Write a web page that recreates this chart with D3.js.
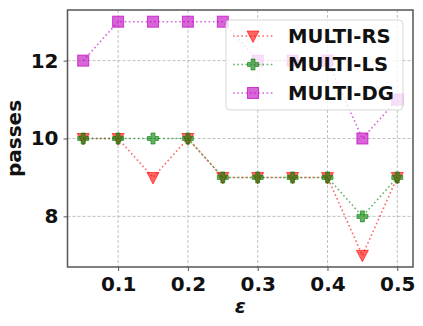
<!DOCTYPE html>
<html>
<head>
<meta charset="utf-8">
<script src="https://cdn.jsdelivr.net/npm/d3@7"></script>
<style>
  body { margin: 0; background: #fff; }
  text { font-family: "DejaVu Sans", sans-serif; font-weight: bold; }
</style>
</head>
<body>
<div id="chart"></div>
<script>
const eps = [0.05, 0.1, 0.15, 0.2, 0.25, 0.3, 0.35, 0.4, 0.45, 0.5];
const multiRS = [10, 10, 9, 10, 9, 9, 9, 9, 7, 9];
const multiLS = [10, 10, 10, 10, 9, 9, 9, 9, 8, 9];
const multiDG = [12, 13, 13, 13, 13, 12, 12, 12, 10, 11];
const xTicks = [0.1, 0.2, 0.3, 0.4, 0.5];
const yTicks = [8, 10, 12];

const series = [
    { name: "MULTI-RS", values: multiRS, color: "#ff0000", shape: "tri" },
    { name: "MULTI-LS", values: multiLS, color: "#008000", shape: "plus" },
    { name: "MULTI-DG", values: multiDG, color: "#c000c0", shape: "square" }
];

const width = 423, height = 326,
      margin = ({ top: 10, right: 10, bottom: 59, left: 67.5 });

let svg = d3.select("#chart")
    .append("svg")
    .attr("width", width)
    .attr("height", height);

let x = d3.scaleLinear()
    .domain([0.0275, 0.5225])
    .range([margin.left, width - margin.right]);

let y = d3.scaleLinear()
    .domain([6.7, 13.3])
    .range([height - margin.bottom, margin.top]);

// grid
svg.append("g")
    .selectAll("line")
    .data(xTicks)
    .join("line")
    .attr("x1", d => x(d)).attr("x2", d => x(d))
    .attr("y1", margin.top).attr("y2", height - margin.bottom)
    .attr("stroke", "#b0b0b0").attr("stroke-width", 0.8)
    .attr("stroke-dasharray", "3,2");

svg.append("g")
    .selectAll("line")
    .data(yTicks)
    .join("line")
    .attr("x1", margin.left).attr("x2", width - margin.right)
    .attr("y1", d => y(d)).attr("y2", d => y(d))
    .attr("stroke", "#b0b0b0").attr("stroke-width", 0.8)
    .attr("stroke-dasharray", "3,2");

// axes
let xAxis = svg.append("g")
    .attr("transform", `translate(0,${height - margin.bottom})`)
    .call(d3.axisBottom(x).tickValues(xTicks).tickSize(4).tickPadding(6).tickFormat(d3.format(".1f")));

let yAxis = svg.append("g")
    .attr("transform", `translate(${margin.left},0)`)
    .call(d3.axisLeft(y).tickValues(yTicks).tickSize(4).tickPadding(5).tickFormat(d3.format("d")));

[xAxis, yAxis].forEach(a => {
    a.select(".domain").remove();
    a.selectAll(".tick line").attr("stroke", "#555");
    a.selectAll(".tick text")
        .attr("fill", "#111")
        .style("font-size", "20px")
        .style("font-family", "DejaVu Sans")
        .style("font-weight", "bold");
});

// frame
svg.append("rect")
    .attr("x", margin.left).attr("y", margin.top)
    .attr("width", width - margin.right - margin.left)
    .attr("height", height - margin.bottom - margin.top)
    .attr("fill", "none")
    .attr("stroke", "#555")
    .attr("stroke-width", 1.5);

function marker(sel, shape, color) {
    if (shape == "tri") {
        sel.append("path")
            .attr("d", "M-6,-5 L6,-5 L0,6.5 Z")
            .attr("fill", color).attr("fill-opacity", 0.6)
            .attr("stroke", color).attr("stroke-opacity", 0.6);
    } else if (shape == "plus") {
        sel.append("path")
            .attr("d", "M-2,-5.5 L2,-5.5 L2,-2 L5.5,-2 L5.5,2 L2,2 L2,5.5 L-2,5.5 L-2,2 L-5.5,2 L-5.5,-2 L-2,-2 Z")
            .attr("fill", color).attr("fill-opacity", 0.6)
            .attr("stroke", color).attr("stroke-opacity", 0.6);
    } else {
        sel.append("rect")
            .attr("x", -5.5).attr("y", -5.5).attr("width", 11).attr("height", 11)
            .attr("fill", color).attr("fill-opacity", 0.6)
            .attr("stroke", color).attr("stroke-opacity", 0.7);
    }
}

let line = d3.line()
    .x((d, i) => x(eps[i]))
    .y(d => y(d));

for (let s of series) {
    svg.append("path")
        .datum(s.values)
        .attr("d", line)
        .attr("fill", "none")
        .attr("stroke", s.color)
        .attr("stroke-opacity", 0.6)
        .attr("stroke-width", 1.6)
        .attr("stroke-dasharray", "1.6,2.6");

    svg.append("g")
        .selectAll("g")
        .data(s.values)
        .join("g")
        .attr("transform", (d, i) => `translate(${x(eps[i])},${y(d)})`)
        .each(function() { marker(d3.select(this), s.shape, s.color); });
}

// legend
let legend = svg.append("g");
legend.append("rect")
    .attr("x", 226).attr("y", 20)
    .attr("width", 177).attr("height", 90)
    .attr("rx", 4)
    .attr("fill", "white").attr("fill-opacity", 0.8)
    .attr("stroke", "#ccc").attr("stroke-opacity", 0.8);

series.forEach((s, i) => {
    let yy = 36 + i * 28.5;
    legend.append("line")
        .attr("x1", 233).attr("x2", 273)
        .attr("y1", yy).attr("y2", yy)
        .attr("stroke", s.color)
        .attr("stroke-opacity", 0.6)
        .attr("stroke-width", 1.6)
        .attr("stroke-dasharray", "1.6,2.6");
    let g = legend.append("g").attr("transform", `translate(253,${yy})`);
    marker(g, s.shape, s.color);
    legend.append("text")
        .attr("x", 288).attr("y", yy + 6.5)
        .style("font-size", "19.6px")
        .attr("fill", "#111")
        .text(s.name);
});

svg.append("text")
    .attr("text-anchor", "middle")
    .attr("x", x(0.275))
    .attr("y", 313)
    .style("font-size", "20px")
    .style("font-style", "italic")
    .attr("fill", "#111")
    .text("ε");

svg.append("text")
    .attr("text-anchor", "middle")
    .attr("transform", `translate(21,${(margin.top + height - margin.bottom) / 2}) rotate(-90)`)
    .style("font-size", "20px")
    .attr("fill", "#111")
    .text("passes");
</script>
</body>
</html>
